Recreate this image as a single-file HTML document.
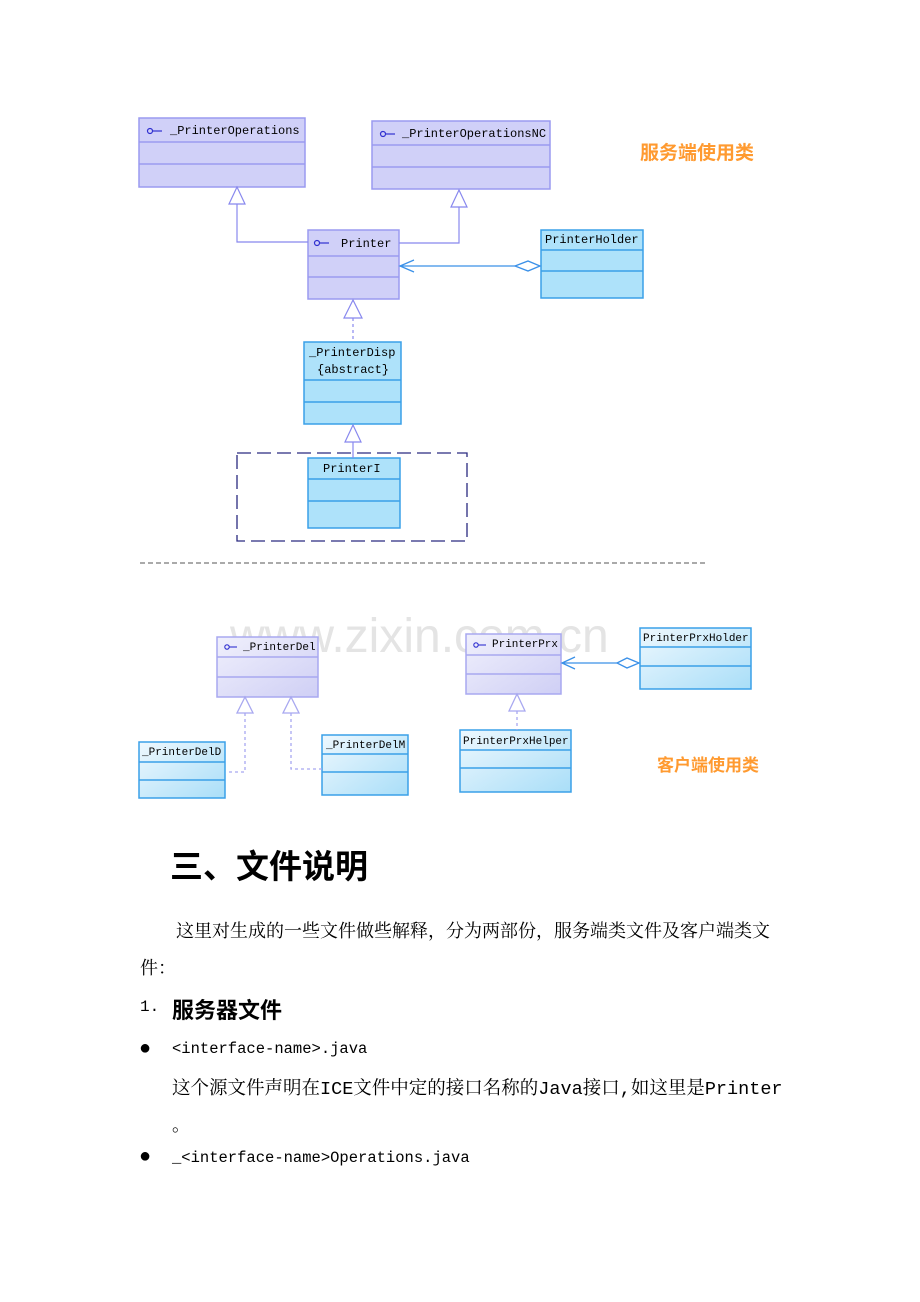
<!DOCTYPE html>
<html><head><meta charset="utf-8"><style>
body{margin:0;background:#fff;width:920px;height:1302px;position:relative;overflow:hidden;font-family:"Liberation Serif","Noto Serif CJK SC",serif;}
.t{position:absolute;white-space:nowrap;color:#000;}
.m{font-family:"Liberation Mono","Noto Serif CJK SC",monospace;}
</style></head><body>
<svg width="920" height="820" style="position:absolute;left:0;top:0" font-family="Liberation Mono, monospace" font-size="12">
<defs>
<linearGradient id="pg" x1="0" y1="0" x2="1" y2="1"><stop offset="0" stop-color="#f0f0fc"/><stop offset="1" stop-color="#cfcff5"/></linearGradient>
<linearGradient id="bg" x1="0" y1="0" x2="1" y2="1"><stop offset="0" stop-color="#eef8fe"/><stop offset="1" stop-color="#a9def8"/></linearGradient>
</defs>
<g stroke="#9a9af0" stroke-width="1.5" fill="#d0d0f8">
<rect x="139" y="118" width="166" height="69"/><line x1="139" y1="142" x2="305" y2="142"/><line x1="139" y1="164" x2="305" y2="164"/>
<rect x="372" y="121" width="178" height="68"/><line x1="372" y1="145" x2="550" y2="145"/><line x1="372" y1="167" x2="550" y2="167"/>
<rect x="308" y="230" width="91" height="69"/><line x1="308" y1="256" x2="399" y2="256"/><line x1="308" y1="277" x2="399" y2="277"/>
</g>
<g stroke="#3aa0e8" stroke-width="1.5" fill="#aee2fa">
<rect x="541" y="230" width="102" height="68"/><line x1="541" y1="250" x2="643" y2="250"/><line x1="541" y1="271" x2="643" y2="271"/>
<rect x="304" y="342" width="97" height="82"/><line x1="304" y1="380" x2="401" y2="380"/><line x1="304" y1="402" x2="401" y2="402"/>
<rect x="308" y="458" width="92" height="70"/><line x1="308" y1="479" x2="400" y2="479"/><line x1="308" y1="501" x2="400" y2="501"/>
</g>
<g fill="none" stroke="#8888ee" stroke-width="1.2">
<polyline points="237,204 237,242 308,242"/><polygon points="237,187 229,204 245,204" fill="#fff"/>
<polyline points="459,207 459,243 399,243"/><polygon points="459,190 451,207 467,207" fill="#fff"/>
<line x1="353" y1="318" x2="353" y2="342" stroke-dasharray="3,3"/><polygon points="353,300 344,318 362,318" fill="#fff"/>
<line x1="353" y1="442" x2="353" y2="458"/><polygon points="353,425 345,442 361,442" fill="#fff"/>
</g>
<g stroke="#3a90e8" stroke-width="1.3" fill="none">
<line x1="400" y1="266" x2="515" y2="266"/><polyline points="414,260 400,266 414,272"/>
<polygon points="515,266 528,261 540,266 528,271" fill="#fff"/>
</g>
<rect x="237" y="453" width="230" height="88" fill="none" stroke="#2a2a80" stroke-width="1.3" stroke-dasharray="14,6"/>
<line x1="140" y1="563" x2="705" y2="563" stroke="#555" stroke-dasharray="5,3"/>
<g fill="#000">
<text x="170" y="134">_PrinterOperations</text>
<text x="402" y="137">_PrinterOperationsNC</text>
<text x="341" y="247">Printer</text>
<text x="545" y="243">PrinterHolder</text>
<text x="309" y="356">_PrinterDisp</text>
<text x="317" y="373">{abstract}</text>
<text x="323" y="472">PrinterI</text>
</g>
<g fill="none" stroke="#3030d0" stroke-width="1.2">
<circle cx="150" cy="131" r="2.5"/><line x1="153" y1="131" x2="162" y2="131"/>
<circle cx="383" cy="134" r="2.5"/><line x1="386" y1="134" x2="395" y2="134"/>
<circle cx="317" cy="243" r="2.5"/><line x1="320" y1="243" x2="329" y2="243"/>
</g>
<text x="640" y="159" font-family="Liberation Sans, Noto Sans CJK SC, sans-serif" font-size="19" font-weight="bold" fill="#ff9a30">服务端使用类</text>
<text x="230" y="652" font-family="Liberation Sans, sans-serif" font-size="48" fill="#e4e4e4">www.zixin.com.cn</text>
<g stroke="#a8a8f0" stroke-width="1.5" fill="url(#pg)">
<rect x="217" y="637" width="101" height="60"/><line x1="217" y1="657" x2="318" y2="657"/><line x1="217" y1="677" x2="318" y2="677"/>
<rect x="466" y="634" width="95" height="60"/><line x1="466" y1="655" x2="561" y2="655"/><line x1="466" y1="674" x2="561" y2="674"/>
</g>
<g stroke="#3aa0e8" stroke-width="1.5" fill="url(#bg)">
<rect x="139" y="742" width="86" height="56"/><line x1="139" y1="762" x2="225" y2="762"/><line x1="139" y1="780" x2="225" y2="780"/>
<rect x="322" y="735" width="86" height="60"/><line x1="322" y1="754" x2="408" y2="754"/><line x1="322" y1="772" x2="408" y2="772"/>
<rect x="640" y="628" width="111" height="61"/><line x1="640" y1="647" x2="751" y2="647"/><line x1="640" y1="666" x2="751" y2="666"/>
<rect x="460" y="730" width="111" height="62"/><line x1="460" y1="750" x2="571" y2="750"/><line x1="460" y1="768" x2="571" y2="768"/>
</g>
<g fill="none" stroke="#a8a8f0" stroke-width="1.3">
<polyline points="245,713 245,772 226,772" stroke-dasharray="3,3"/><polygon points="245,697 237,713 253,713" fill="#fff"/>
<polyline points="291,713 291,769 322,769" stroke-dasharray="3,3"/><polygon points="291,697 283,713 299,713" fill="#fff"/>
<line x1="517" y1="711" x2="517" y2="730" stroke-dasharray="3,3"/><polygon points="517,694 509,711 525,711" fill="#fff"/>
</g>
<g stroke="#3a90e8" stroke-width="1.3" fill="none">
<line x1="562" y1="663" x2="617" y2="663"/><polyline points="575,657 562,663 575,669"/>
<polygon points="617,663 627,658 639,663 627,668" fill="#fff"/>
</g>
<g fill="#000" font-size="11">
<text x="243" y="650">_PrinterDel</text>
<text x="492" y="647">PrinterPrx</text>
<text x="643" y="641">PrinterPrxHolder</text>
<text x="142" y="755">_PrinterDelD</text>
<text x="326" y="748">_PrinterDelM</text>
<text x="463" y="744">PrinterPrxHelper</text>
</g>
<g fill="none" stroke="#3030d0" stroke-width="1.1">
<circle cx="227" cy="647" r="2.2"/><line x1="229" y1="647" x2="237" y2="647"/>
<circle cx="476" cy="645" r="2.2"/><line x1="478" y1="645" x2="486" y2="645"/>
</g>
<text x="657" y="771" font-family="Liberation Sans, Noto Sans CJK SC, sans-serif" font-size="17" font-weight="bold" fill="#ff9a30">客户端使用类</text>
</svg>
<div class="t" style="left:170px;top:840px;font-size:33px;font-weight:bold;font-family:'Liberation Sans','Noto Sans CJK SC',sans-serif;">三、文件说明</div>
<div class="t" style="left:176px;top:917px;font-size:18px;">这里对生成的一些文件做些解释，分为两部份，服务端类文件及客户端类文</div>
<div class="t" style="left:140px;top:954px;font-size:18px;">件：</div>
<div class="t m" style="left:140px;top:998px;font-size:16px;">1.</div>
<div class="t" style="left:172px;top:993px;font-size:22px;font-weight:bold;font-family:'Liberation Sans','Noto Sans CJK SC',sans-serif;">服务器文件</div>
<div class="t" style="left:139px;top:1037px;font-size:20px;">●</div>
<div class="t m" style="left:172px;top:1040px;font-size:15.5px;">&lt;interface-name&gt;.java</div>
<div class="t m" style="left:172px;top:1074px;font-size:18.5px;">这个源文件声明在ICE文件中定的接口名称的Java接口,如这里是Printer</div>
<div class="t" style="left:172px;top:1111px;font-size:18px;">。</div>
<div class="t" style="left:139px;top:1145px;font-size:20px;">●</div>
<div class="t m" style="left:172px;top:1149px;font-size:15.5px;">_&lt;interface-name&gt;Operations.java</div>
</body></html>
